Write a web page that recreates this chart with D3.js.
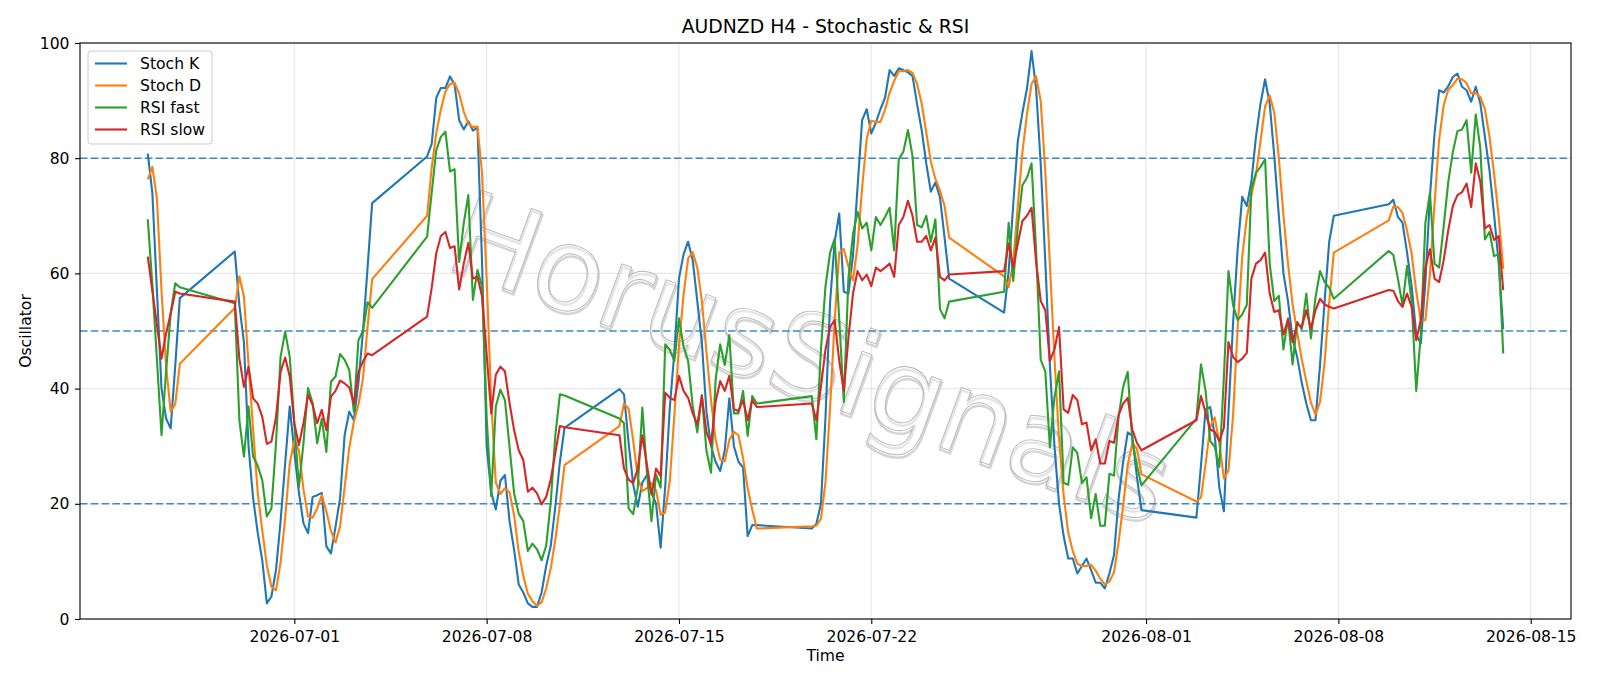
<!DOCTYPE html>
<html><head><meta charset="utf-8">
<script src="https://cdn.jsdelivr.net/npm/d3@7"></script>
<style>
body{margin:0;background:#fff}
svg{display:block;font-family:"DejaVu Sans",sans-serif}
</style>
</head><body>
<svg id="chart" width="1600" height="686"></svg>
<script>
// H4 trading sessions: [first bar, number of 4-hour bars]
const sessions = [
  ["2026-06-25T16:00:00Z", 8],
  ["2026-06-28T20:00:00Z", 31],
  ["2026-07-05T20:00:00Z", 31],
  ["2026-07-12T20:00:00Z", 31],
  ["2026-07-19T20:00:00Z", 31],
  ["2026-07-26T20:00:00Z", 31],
  ["2026-08-02T20:00:00Z", 31],
  ["2026-08-09T20:00:00Z", 26]
];

const stochK = [
  80.8,74,57,40,34.8,33.1,44,55.7,
  63.8,54.5,48,30,21,15,10.2,2.7,3.9,8.5,17,27,36.9,29,22,16.6,14.9,21.2,21.5,21.9,12.6,11.4,16,21,32,36,34.5,41,50,61,72.2,
  80.3,82.5,90.5,92.2,92.2,94.2,92.8,86.6,85,86.4,84.8,85.3,62,30,22,19,24,25,17,12,6,4.6,2.7,2.1,2.1,4.6,9.2,12.7,19.5,27.3,33.2,
  39.9,39,30.6,23.4,19.5,23.7,25,22,20,12.4,23,36.7,46.4,59.1,63.3,65.5,62.3,55.2,48,36,30,27.3,25.7,29.3,38.3,30,27.3,26.3,14.4,16.3,16.3,
  15.7,16.5,20,35,55,65.5,70.4,56.8,56.5,63,75,86.6,88.5,84.3,86.2,88.5,90.5,95.3,94.3,95.6,95.3,94.9,94.3,89.4,84.9,79.1,74.2,75.8,73.2,66.2,59.1,
  53.2,60.4,72,83,87.9,92.1,98.6,92,79,62,44,30,20,14.4,10.5,10.5,7.9,9.2,10.5,8.5,6.3,6.3,5.3,7.9,11.1,20.8,27.3,32.4,31.8,24.7,18.9,
  17.6,26.7,36.4,36.8,31.8,22.8,18.7,35.8,51.3,64.2,73.3,71.7,75.9,83.7,89.5,93.7,89.5,80.4,70,60,55.2,48.7,45.5,41,37.4,34.5,34.5,44.2,55.2,65.5,70,
  72,72.8,69.8,68.8,63.6,57.8,49.4,47.8,58.5,73.4,84.3,91.8,91.4,92.5,94.1,94.7,92.4,91.8,89.8,92.4,89.5,83.7,77.9,70.2,61.8,50.3
];
const stochD = [
  76.3,78.5,73,57,43.9,36,37.3,44.3,
  54,59.5,56,44.2,33,22,15.4,9.3,5.6,5,9.8,17.5,27,31,29.3,22.5,17.8,17.6,19.2,21.5,18.7,15.3,13.3,16.1,23,29.7,34.2,37.2,41.8,50.7,59,
  70,78.3,84.4,88.4,91.6,92.9,93.1,91.2,88.1,86,85.4,85.5,77.4,59.1,38,23.7,21.7,22.7,22,18,11.7,7.5,4.4,3.1,2.3,2.9,5.3,8.8,13.8,19.8,26.7,
  33.5,37.4,36.5,31,24.5,22.2,22.7,23.6,22.3,18.1,18.5,24,35.4,47.4,56.3,62.6,63.7,61,55.2,46.4,38,31.1,27.7,27.4,31.1,32.5,31.9,27.9,22.7,19,15.7,
  16.1,16.2,17.4,23.8,36.7,51.8,63.6,64.2,61.2,58.8,64.8,74.9,83.4,86.5,86.3,86.3,88.4,91.4,93.4,95.1,95.1,95.3,94.8,92.9,89.5,84.5,79.4,76.4,74.4,71.7,66.2,
  59.5,57.6,61.9,71.8,81,87.7,92.9,94.2,89.9,77.7,61.7,45.3,31.3,21.5,15,11.8,9.6,9.2,9.2,9.4,8.4,7,6,6.5,8.1,13.3,19.7,26.8,30.5,29.6,25.1,
  20.4,21.1,26.9,33.3,35,30.5,24.4,25.8,35.3,50.4,62.9,69.7,73.6,77.1,83,89,90.9,87.9,80,70.1,61.7,54.6,49.8,45.1,41.3,37.6,35.5,37.7,44.6,55,63.6,
  69.2,71.6,71.5,70.5,67.4,63.4,56.9,51.7,51.9,59.9,72.1,83.2,89.2,91.9,92.7,93.8,93.7,93,91.3,91.3,90.6,88.5,83.7,77.3,70,60.8
];
const rsiFast = [
  69.4,58,45,31.9,43,53,58.3,57.6,
  54.8,34.5,28.2,36.9,28.2,26.6,24.1,17.8,19.2,30.5,45.5,49.9,45.5,34,22.9,30.5,40.1,37.5,30.5,34.8,29,41.2,42.1,46,45,43.2,36,48.4,50,55,54,
  66.4,74,81.4,83.7,84.6,77.7,78.1,62,68.7,73.6,55.4,60.6,57.7,35,21.3,36.9,39.8,38,29.9,21.8,18.3,17,11.8,13.1,12.1,10.2,12.7,20.3,31.9,39,38.8,
  34.8,34,19.2,18.2,22.8,36.7,25.4,17,25.1,22.8,47.7,46.7,44.8,52.2,47.3,44.8,37,32.4,38.9,29.2,25.4,41.5,47.7,44.1,49.3,35.7,35.7,39.6,31.8,38.7,37.4,
  38.7,31.2,46.8,57.8,63.6,66,52,37.7,59.1,66.8,70.7,67.8,68.8,64,69.8,68.4,69.8,71.4,64,79.8,81.1,84.9,80.4,68.4,68,70,65.5,69.4,53.8,52.2,55.1,
  56.8,68.8,58.7,68.2,75.3,76.6,79.1,63.8,45,43,29.8,38.5,43,23.6,23.3,29.8,28.8,23.6,24.6,17.5,21.7,16.2,16.2,25.2,24.9,35.1,40.3,42.9,30.9,26.7,23.2,
  34.8,44.2,39.6,30.9,29.9,26.4,42,60.4,54.5,51.9,52.9,54.5,74.6,77.5,78.5,79.8,61.7,55.2,56.1,46.8,52.2,44.2,51.6,50.3,56.5,48.7,55.8,60.4,58.5,57.5,55.6,
  63.9,63.2,59.1,54.5,61.3,55.2,39.6,49.4,68.8,74,61.7,61,68.2,75.9,81.1,84.7,85,86.6,77.5,87.6,81.7,65.9,67.2,63,63.3,46.1
];
const rsiSlow = [
  62.9,57,51,45.2,49.6,53,56.8,56.5,
  55.1,45.2,40.3,43.8,38.3,37.4,35.1,30.4,30.8,35.1,42.9,45.4,42.1,34,30.2,34,38.9,37.2,34,36.3,32.8,38.6,39.6,41.4,40.9,40.2,37.4,42.9,44.7,46.1,45.8,
  52.5,57.5,63.5,66.5,67.2,64.4,64.7,57.2,61.7,65.3,59.1,59.4,56,46,35.7,42.4,43.8,43,37.5,32.8,29.3,27.6,22.1,22.8,21.8,19.9,21.2,24.2,28.8,33.5,33.3,
  31.9,26.1,24.2,23.6,26.1,31.9,26.8,21.6,26.1,24.8,39.3,38.4,38,42.2,39.6,38.4,35.7,33.8,38.7,32.5,30.3,37.7,41.3,39.6,42.2,36.4,36.1,38,34.5,38,36.8,
  37.4,34.5,40.3,46.8,50.7,51.9,44.8,39.6,48.7,56.5,60.4,58.8,59.8,57.8,61,60.4,61,61.7,59.4,68.4,69.8,72.6,70,65.5,65.5,66.5,64,66.2,59.4,58.8,59.8,
  60.4,65.2,61,65.2,69.1,70,71.4,61.9,55.2,53.6,44.8,46.8,50.7,36.4,35.8,38.9,38,33.8,34.1,29.3,31.2,27,27,30.9,30.6,35.4,37.4,38.4,32.9,30.6,29.3,
  34.5,38.7,35.8,32.9,32.5,30.9,33.2,48.1,45.5,44.6,45.2,46.2,59.1,61.7,62.3,63.6,56.5,53.3,53.6,49.4,52,48.1,51.3,50.7,53.6,50.4,53.6,55.6,54.6,54.2,53.9,
  57.1,57,55.2,54.2,56.5,54.2,48.4,51.9,61,64.2,59.1,58.5,62.3,67.5,71.7,73.6,74.1,75.6,71.5,79.1,75.9,67.8,68.4,65.8,66.5,57.1
];

const seriesNames = ["Stoch K", "Stoch D", "RSI fast", "RSI slow"];
const seriesColors = ["#1f77b4", "#ff7f0e", "#2ca02c", "#d62728"];
const levelLines = [80, 50, 20];
const xTickLabels = ["2026-07-01","2026-07-08","2026-07-15","2026-07-22","2026-08-01","2026-08-08","2026-08-15"];
const yTickValues = [0, 20, 40, 60, 80, 100];
const titleText = "AUDNZD H4 - Stochastic & RSI";
const xLabel = "Time";
const yLabel = "Oscillator";
const watermark = "HorusSignals";

// expand sessions into bar times
const H4 = 4 * 3600 * 1000;
const times = [];
sessions.forEach(([s, n]) => { const t0 = Date.parse(s); for (let i = 0; i < n; i++) times.push(new Date(t0 + i * H4)); });

const svg = d3.select("#chart");
const FS = 15.6;
const plot = {l: 80, r: 1571, t: 43, b: 619};

const tMin = +times[0], tMax = +times[times.length - 1];
const padT = (tMax - tMin) * 0.05;
const x = d3.scaleUtc().domain([new Date(tMin - padT), new Date(tMax + padT)]).range([plot.l, plot.r]);
const y = d3.scaleLinear().domain([0, 100]).range([plot.b, plot.t]);
const parseDay = d3.utcParse("%Y-%m-%d");
const xTicks = xTickLabels.map(parseDay);

// grid
const grid = svg.append("g").attr("stroke", "#b0b0b0").attr("stroke-opacity", 0.3).attr("stroke-width", 1.1);
xTicks.forEach(d => grid.append("line").attr("x1", x(d)).attr("x2", x(d)).attr("y1", plot.t).attr("y2", plot.b));
yTickValues.forEach(v => grid.append("line").attr("x1", plot.l).attr("x2", plot.r).attr("y1", y(v)).attr("y2", y(v)));

// watermark
const wm = svg.append("g").attr("transform", "translate(811,357) rotate(20)");
wm.append("text").attr("x", 1.5).attr("y", 2.5).attr("text-anchor", "middle").attr("dominant-baseline", "central")
  .attr("font-size", 116).attr("fill", "none").attr("stroke", "#d4d4d4").attr("stroke-width", 2.4).text(watermark);
wm.append("text").attr("text-anchor", "middle").attr("dominant-baseline", "central")
  .attr("font-size", 116).attr("fill", "#ffffff").attr("fill-opacity", 0.4).attr("stroke", "#b8b8b8").attr("stroke-width", 0.9).text(watermark);

// level lines
levelLines.forEach(v => svg.append("line").attr("x1", plot.l).attr("x2", plot.r).attr("y1", y(v)).attr("y2", y(v))
  .attr("stroke", "#1f77b4").attr("stroke-opacity", 0.85).attr("stroke-width", 1.5).attr("stroke-dasharray", "7.5,3.3"));

// series
const allSeries = [stochK, stochD, rsiFast, rsiSlow];
const line = d3.line().x((d, i) => x(times[i])).y(d => y(d));
svg.append("clipPath").attr("id", "clip").append("rect")
  .attr("x", plot.l).attr("y", plot.t).attr("width", plot.r - plot.l).attr("height", plot.b - plot.t);
allSeries.forEach((s, k) => {
  svg.append("path").datum(s).attr("d", line).attr("fill", "none").attr("stroke", seriesColors[k])
    .attr("stroke-width", 2.1).attr("stroke-linejoin", "round").attr("clip-path", "url(#clip)");
});

// axes
const xAxis = d3.axisBottom(x).tickValues(xTicks).tickFormat(d3.utcFormat("%Y-%m-%d")).tickSize(5).tickPadding(7);
const gx = svg.append("g").attr("transform", `translate(0,${plot.b})`).call(xAxis);
const yAxis = d3.axisLeft(y).tickValues(yTickValues).tickFormat(d3.format("d")).tickSize(5).tickPadding(5.5);
const gy = svg.append("g").attr("transform", `translate(${plot.l},0)`).call(yAxis);
[gx, gy].forEach(g => {
  g.select(".domain").remove();
  g.selectAll("line").attr("stroke", "#000").attr("stroke-width", 1.1);
  g.selectAll("text").attr("font-size", FS).attr("fill", "#000").attr("font-family", "DejaVu Sans");
});

// spines
svg.append("rect").attr("x", plot.l).attr("y", plot.t).attr("width", plot.r - plot.l).attr("height", plot.b - plot.t)
  .attr("fill", "none").attr("stroke", "#000").attr("stroke-width", 1.1);

// titles
svg.append("text").attr("x", (plot.l + plot.r) / 2).attr("y", 33).attr("text-anchor", "middle")
  .attr("font-size", 18.8).text(titleText);
svg.append("text").attr("x", (plot.l + plot.r) / 2).attr("y", 661).attr("text-anchor", "middle")
  .attr("font-size", FS).text(xLabel);
svg.append("text").attr("transform", `translate(31,${(plot.t + plot.b) / 2}) rotate(-90)`).attr("text-anchor", "middle")
  .attr("font-size", FS).text(yLabel);

// legend
const lg = svg.append("g");
lg.append("rect").attr("x", 88).attr("y", 51).attr("width", 124).attr("height", 93).attr("rx", 3)
  .attr("fill", "#fff").attr("fill-opacity", 0.8).attr("stroke", "#cccccc").attr("stroke-width", 1);
seriesNames.forEach((n, k) => {
  const yy = 63.5 + k * 22;
  lg.append("line").attr("x1", 95).attr("x2", 127).attr("y1", yy).attr("y2", yy).attr("stroke", seriesColors[k]).attr("stroke-width", 2.1);
  lg.append("text").attr("x", 140).attr("y", yy).attr("dy", "0.36em").attr("font-size", FS).text(n);
});
</script>
</body></html>
